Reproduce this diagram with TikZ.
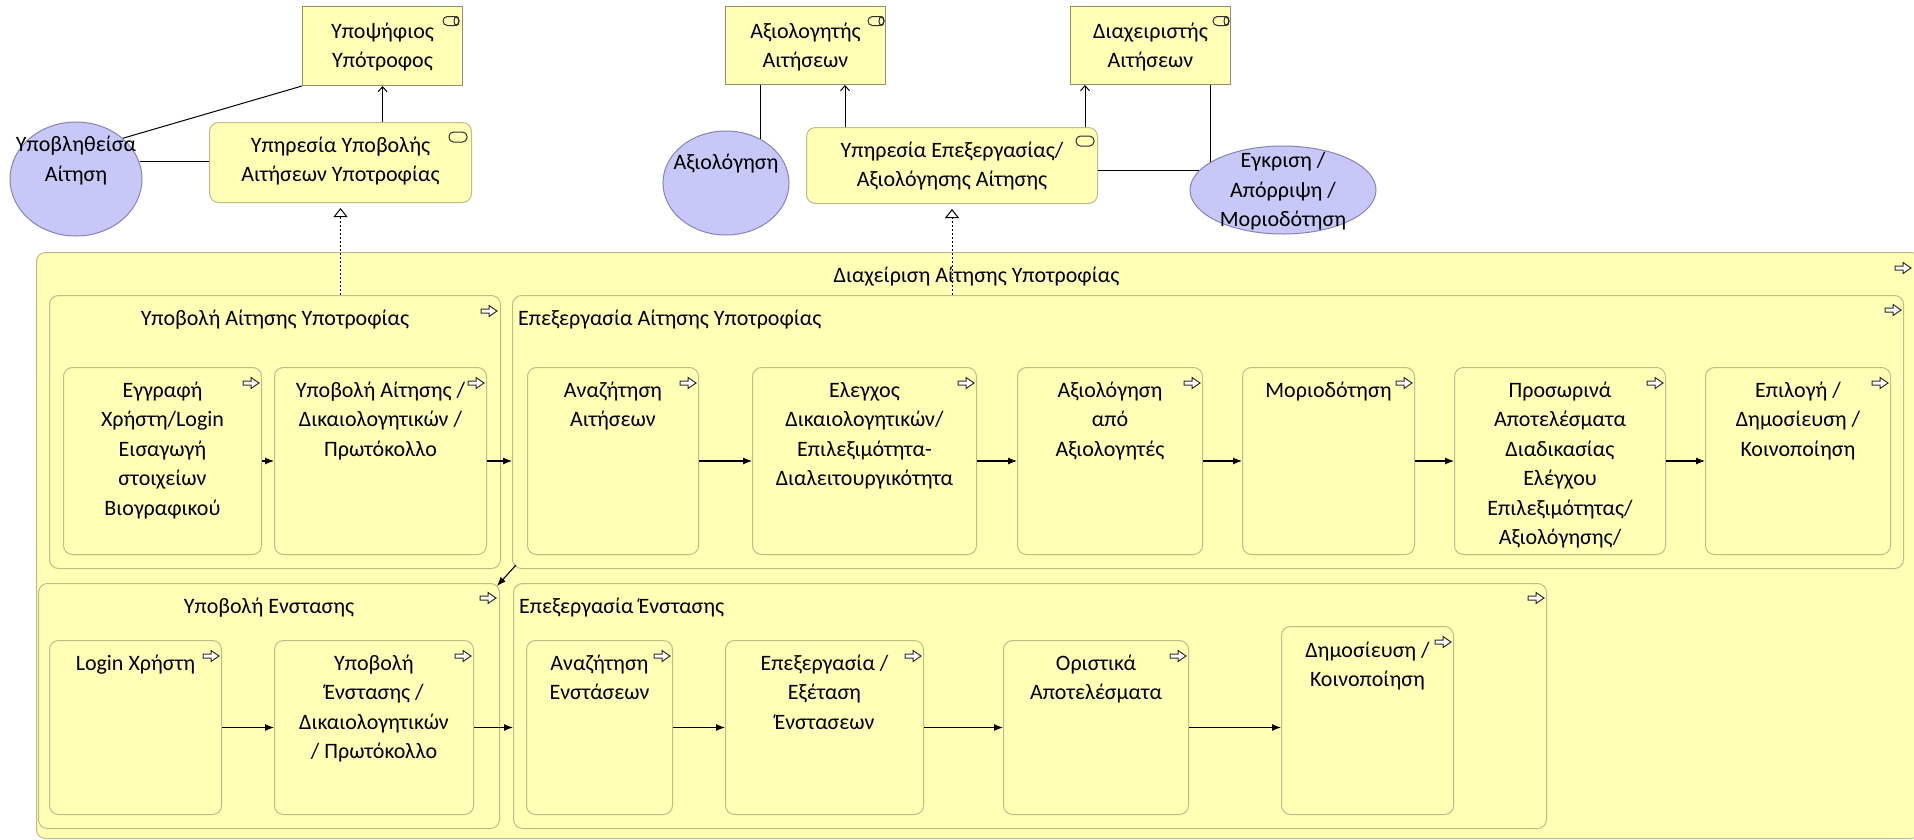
\documentclass[tikz,border=0pt]{standalone}
\usepackage{fontspec}
\setmainfont{Carlito}
\usetikzlibrary{shapes.geometric,arrows.meta,calc}
\definecolor{bizfill}{HTML}{FFFFB5}
\definecolor{bizedge}{HTML}{BDBD8C}
\definecolor{roleedge}{HTML}{8F8F6A}
\definecolor{objfill}{HTML}{C8C8F8}
\definecolor{objedge}{HTML}{8585B5}
\definecolor{iconedge}{HTML}{2E2E2E}
\tikzset{
  box/.style={draw=bizedge, fill=bizfill, rounded corners=9pt, line width=1pt, inner sep=0pt, anchor=north west},
  rolebox/.style={draw=roleedge, fill=bizfill, line width=1pt, inner sep=0pt, anchor=north west},
  obj/.style={ellipse, draw=objedge, fill=objfill, line width=1pt, inner sep=0pt},
  txt/.style={align=center, inner sep=0pt, font=\fontsize{22}{29.5}\selectfont, text=black},
  % label whose first baseline lies #2 below the anchor point, #1 lines of text
  tl/.style 2 args={txt, anchor=base, yshift={-(#2)*1pt-(#1-1)*29.5pt}},
  flow/.style={line width=1.1pt, -{Latex[length=9pt,width=7pt]}},
  serve/.style={line width=1pt, -{Straight Barb[length=5pt,width=9pt]}},
  assoc/.style={line width=1pt},
  realize/.style={line width=1pt, dash pattern=on 2pt off 2pt, -{Triangle[open,length=9pt,width=14pt,fill=white]}, shorten >=5pt},
  procicon/.pic={\draw[iconedge, fill=white, line width=1pt] (-8,-2)--(0,-2)--(0,-5.5)--(8,0)--(0,5.5)--(0,2)--(-8,2)--cycle;},
  roleicon/.pic={\draw[iconedge, line width=1pt, rounded corners=4.4pt] (-8,-4.5) rectangle (8,4.5);
                 \draw[iconedge, line width=1pt] (5.5,0) ellipse [x radius=2.5, y radius=4.5];},
  svcicon/.pic={\draw[iconedge, line width=1pt, rounded corners=4.5pt] (-9,-5) rectangle (9,5);},
}
\begin{document}
\begin{tikzpicture}[x=1pt,y=-1pt]
\useasboundingbox (0,0) rectangle (1914,839);
\clip (0,0) rectangle (1914,839);
\fill[white] (0,0) rectangle (1914,839);

% containers
\node[box, minimum width=1884pt, minimum height=586pt,
  label={[tl={1}{30},xshift=-2pt]north:{Διαχείριση Αίτησης Υποτροφίας}}] (main) at (36,252) {};
\node[box, minimum width=451pt, minimum height=273pt,
  label={[tl={1}{30}]north:{Υποβολή Αίτησης Υποτροφίας}}] (subA) at (49,295) {};
\node[box, minimum width=1391pt, minimum height=273pt,
  label={[tl={1}{30},anchor=base west,xshift=6pt]north west:{Επεξεργασία Αίτησης Υποτροφίας}}] (subB) at (512,295) {};
\node[box, minimum width=461pt, minimum height=245pt,
  label={[tl={1}{30}]north:{Υποβολή Ενστασης}}] (subC) at (38,583) {};
\node[box, minimum width=1033pt, minimum height=245pt,
  label={[tl={1}{30},anchor=base west,xshift=6pt]north west:{Επεξεργασία Ένστασης}}] (subD) at (513,583) {};

% row 1 processes
\node[box, minimum width=198pt, minimum height=187pt,
  label={[tl={5}{30}]north:{Εγγραφή\\Χρήστη/Login\\Εισαγωγή\\στοιχείων\\Βιογραφικού}}] (a1) at (63,367) {};
\node[box, minimum width=212pt, minimum height=187pt,
  label={[tl={3}{30}]north:{Υποβολή Αίτησης /\\Δικαιολογητικών /\\Πρωτόκολλο}}] (a2) at (274,367) {};
\node[box, minimum width=171pt, minimum height=187pt,
  label={[tl={2}{30}]north:{Αναζήτηση\\Αιτήσεων}}] (b1) at (527,367) {};
\node[box, minimum width=224pt, minimum height=187pt,
  label={[tl={4}{30}]north:{Ελεγχος\\Δικαιολογητικών/\\Επιλεξιμότητα-\\Διαλειτουργικότητα}}] (b2) at (752,367) {};
\node[box, minimum width=185pt, minimum height=187pt,
  label={[tl={3}{30}]north:{Αξιολόγηση\\από\\Αξιολογητές}}] (b3) at (1017,367) {};
\node[box, minimum width=172pt, minimum height=187pt,
  label={[tl={1}{30}]north:{Μοριοδότηση}}] (b4) at (1242,367) {};
\node[box, minimum width=211pt, minimum height=187pt,
  label={[tl={6}{30}]north:{Προσωρινά\\Αποτελέσματα\\Διαδικασίας\\Ελέγχου\\Επιλεξιμότητας/\\Αξιολόγησης/}}] (b5) at (1454,367) {};
\node[box, minimum width=185pt, minimum height=187pt,
  label={[tl={3}{30}]north:{Επιλογή /\\Δημοσίευση /\\Κοινοποίηση}}] (b6) at (1705,367) {};

% row 2 processes
\node[box, minimum width=172pt, minimum height=174pt,
  label={[tl={1}{30}]north:{Login Χρήστη}}] (c1) at (49,640) {};
\node[box, minimum width=199pt, minimum height=174pt,
  label={[tl={4}{30}]north:{Υποβολή\\Ένστασης /\\Δικαιολογητικών\\/ Πρωτόκολλο}}] (c2) at (274,640) {};
\node[box, minimum width=146pt, minimum height=174pt,
  label={[tl={2}{30}]north:{Αναζήτηση\\Ενστάσεων}}] (d1) at (526,640) {};
\node[box, minimum width=198pt, minimum height=174pt,
  label={[tl={3}{30}]north:{Επεξεργασία /\\Εξέταση\\Ένστασεων}}] (d2) at (725,640) {};
\node[box, minimum width=185pt, minimum height=174pt,
  label={[tl={2}{30}]north:{Οριστικά\\Αποτελέσματα}}] (d3) at (1003,640) {};
\node[box, minimum width=172pt, minimum height=188pt,
  label={[tl={2}{31}]north:{Δημοσίευση /\\Κοινοποίηση}}] (d4) at (1281,626) {};

% top elements
\node[rolebox, minimum width=160pt, minimum height=79pt,
  label={[tl={2}{32}]north:{Υποψήφιος\\Υπότροφος}}] (cand) at (302,6) {};
\node[box, minimum width=262pt, minimum height=80pt,
  label={[tl={2}{30}]north:{Υπηρεσία Υποβολής\\Αιτήσεων Υποτροφίας}}] (svc1) at (209,122) {};
\node[obj, minimum width=132pt, minimum height=114pt,
  label={[tl={2}{30}]north:{Υποβληθείσα\\Αίτηση}}] (ell1) at (76,179) {};
\node[rolebox, minimum width=160pt, minimum height=78pt,
  label={[tl={2}{32}]north:{Αξιολογητής\\Αιτήσεων}}] (eval) at (725,6) {};
\node[rolebox, minimum width=160pt, minimum height=78pt,
  label={[tl={2}{32}]north:{Διαχειριστής\\Αιτήσεων}}] (mgr) at (1070,6) {};
\node[box, minimum width=291pt, minimum height=76pt,
  label={[tl={2}{30}]north:{Υπηρεσία Επεξεργασίας/\\Αξιολόγησης Αίτησης}}] (svc2) at (806,127) {};
\node[obj, minimum width=126pt, minimum height=104pt,
  label={[tl={1}{39}]north:{Αξιολόγηση}}] (ell2) at (726,183) {};
\node[obj, minimum width=186pt, minimum height=88pt,
  label={[tl={3}{22}]north:{Εγκριση /\\Απόρριψη /\\Μοριοδότηση}}] (ell3) at (1283,190) {};

% icons
\pic at ($(main.north east)+(-18,16)$) {procicon};
\pic at ($(subA.north east)+(-12,16)$) {procicon};
\pic at ($(subB.north east)+(-11,15)$) {procicon};
\pic at ($(subC.north east)+(-12,15)$) {procicon};
\pic at ($(subD.north east)+(-11,15)$) {procicon};
\foreach \n in {a1,a2,b1,b2,b3,b4,b5,b6,c1,c2,d1,d2,d3,d4} {
  \pic at ($(\n.north east)+(-11,16)$) {procicon};
}
\pic at ($(cand.north east)+(-12,15)$) {roleicon};
\pic at ($(eval.north east)+(-10,15)$) {roleicon};
\pic at ($(mgr.north east)+(-10,15)$) {roleicon};
\pic at ($(svc1.north east)+(-14,15)$) {svcicon};
\pic at ($(svc2.north east)+(-13,14)$) {svcicon};

% connectors: top
\draw[assoc] (ell1.41) -- (cand.south west);
\draw[assoc] (ell1.15) -- (ell1.15 -| svc1.west);
\draw[serve] (svc1.north -| cand.south) -- (cand.south);
\draw[realize] (subA.north -| svc1.south) -- (svc1.south);
\coordinate (s2a) at ($(svc2.north west)+(39,0)$);
\coordinate (s2b) at ($(svc2.north east)+(-13,0)$);
\draw[serve] (s2a) -- (s2a |- eval.south);
\draw[serve] (s2b) -- (s2b |- mgr.south);
\draw[assoc] (ell2.52) -- (ell2.52 |- eval.south);
\draw[assoc] (ell3.159) -- (ell3.159 |- mgr.south);
\draw[assoc] (ell3.167) -- (ell3.167 -| svc2.east);
\draw[realize] (subB.north -| svc2.south) -- (svc2.south);

% connectors: flows
\draw[flow] (a1.east) -- (a2.west);
\draw[flow] (a2.east) -- (a2.east -| subB.west);
\draw[flow] (b1.east) -- (b2.west);
\draw[flow] (b2.east) -- (b3.west);
\draw[flow] (b3.east) -- (b4.west);
\draw[flow] (b4.east) -- (b5.west);
\draw[flow] (b5.east) -- (b6.west);
\draw[flow] ($(subB.south west)+(4,-4)$) -- ($(subC.north east)+(-3,3)$);
\draw[flow] (c1.east) -- (c2.west);
\draw[flow] (c2.east) -- (c2.east -| subD.west);
\draw[flow] (d1.east) -- (d2.west);
\draw[flow] (d2.east) -- (d3.west);
\draw[flow] (d3.east) -- (d3.east -| d4.west);
\end{tikzpicture}
\end{document}
